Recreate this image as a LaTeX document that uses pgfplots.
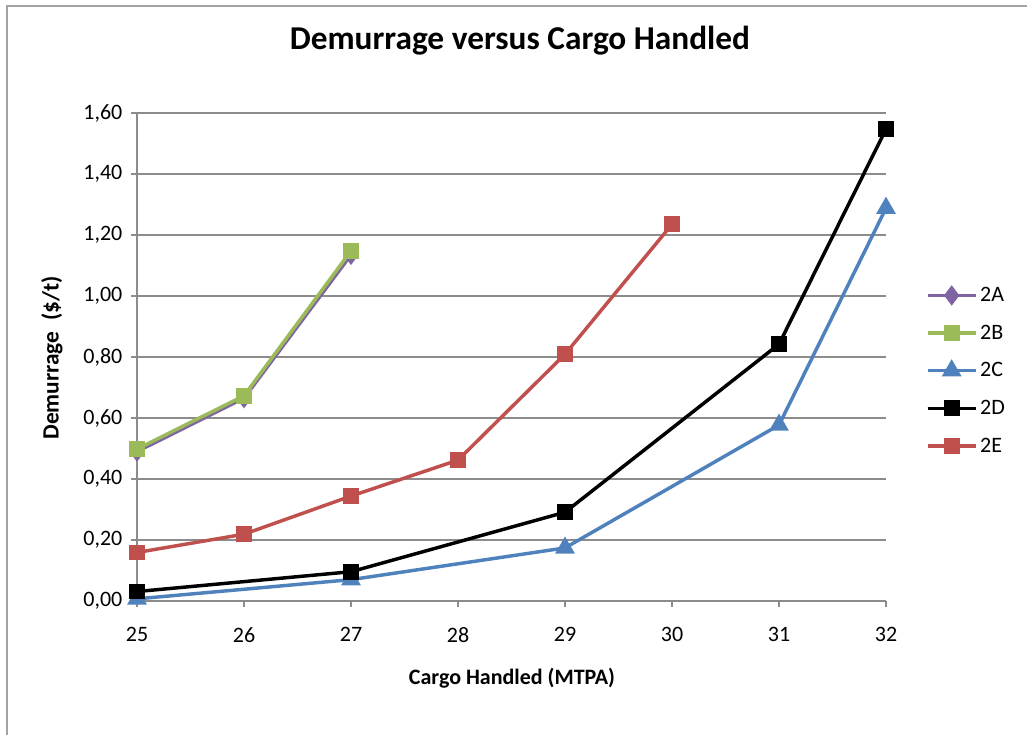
\documentclass[border=0pt]{standalone}
\usepackage{pgfplots}
\pgfplotsset{compat=1.18}
\usepackage{fontspec}
\setmainfont{Carlito}
\definecolor{cA}{HTML}{8064A2}
\definecolor{cB}{HTML}{9BBB59}
\definecolor{cC}{HTML}{4F81BD}
\definecolor{cE}{HTML}{C0504D}
\definecolor{gridg}{HTML}{8C8C8C}
\begin{document}
\begin{tikzpicture}
\path[use as bounding box] (0pt,0pt) rectangle (770.25pt,551.25pt);
\draw[gridg!80,line width=1.2pt] (5.25pt,0pt) -- (5.25pt,546.75pt) -- (770.25pt,546.75pt);
\node[font=\fontsize{25}{30}\selectfont\bfseries] at (390pt,520.5pt) {Demurrage versus Cargo Handled};
\node[font=\fontsize{17.5}{20}\selectfont\bfseries,rotate=90] at (39pt,282.75pt) {Demurrage\ \ (\$/t)};
\node[font=\fontsize{16.5}{20}\selectfont\bfseries] at (384pt,42.75pt) {Cargo Handled (MTPA)};
\begin{axis}[
  at={(102.75pt,100.5pt)}, anchor=south west,
  scale only axis, width=561.75pt, height=366pt,
  xmin=25, xmax=32, ymin=0, ymax=1.6,
  xtick={25,...,32}, ytick={0,0.2,...,1.6},
  axis lines=left, axis line style={gridg,line width=0.9pt,-},
  ymajorgrids, grid style={gridg,line width=0.9pt},
  tick style={gridg,line width=0.9pt},
  tick align=outside, major tick length=4.5pt,
  ticklabel style={font=\fontsize{16.5}{20}\selectfont},
  /pgf/number format/assume math mode=true,
  yticklabel style={/pgf/number format/.cd,fixed,fixed zerofill,precision=2,use comma, /tikz/.cd, xshift=-3pt},
  xticklabel style={yshift=-12pt},
  clip=false,
  legend style={draw=none, fill=none, at={(1.053,0.472)}, anchor=west,
    font=\fontsize{16.5}{20}\selectfont, row sep=12pt, inner xsep=0pt},
  legend cell align=left,
  legend image code/.code={\draw[#1] (0pt,0pt) -- (18pt,0pt) -- (36pt,0pt); \draw[#1,mark repeat=2,mark phase=2] plot coordinates {(0pt,0pt) (18pt,0pt) (36pt,0pt)};},
  every axis plot/.append style={line width=2.6pt, mark options={solid}},
]
\addplot[cA, mark=diamond*, mark size=5.5pt] coordinates {(25,0.49) (26,0.665) (27,1.135)};
\addlegendentry{2A}
\addplot[cB, mark=square*, mark size=4.6pt] coordinates {(25,0.498) (26,0.673) (27,1.148)};
\addlegendentry{2B}
\addplot[cC, mark=triangle*, mark size=6pt] coordinates {(25,0.007) (27,0.07) (29,0.174) (31,0.577) (32,1.288)};
\addlegendentry{2C}
\addplot[black, mark=square*, mark size=4.6pt] coordinates {(25,0.031) (27,0.096) (29,0.291) (31,0.842) (32,1.547)};
\addlegendentry{2D}
\addplot[cE, mark=square*, mark size=4.6pt] coordinates {(25,0.159) (26,0.219) (27,0.344) (28,0.462) (29,0.809) (30,1.235)};
\addlegendentry{2E}
\end{axis}
\end{tikzpicture}
\end{document}
